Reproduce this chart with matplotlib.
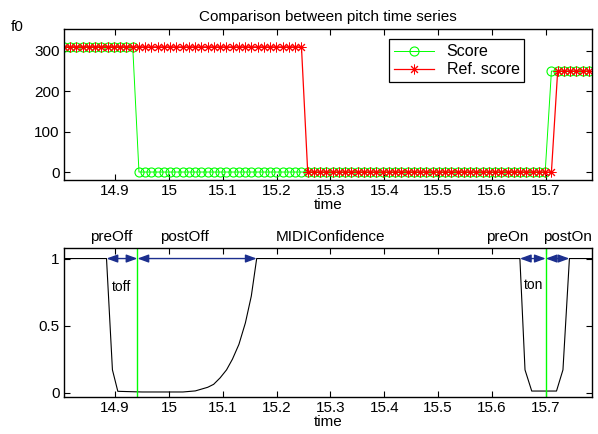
import numpy as np
import matplotlib
matplotlib.use("Agg")
import matplotlib.pyplot as plt

plt.rcParams['font.family'] = ['Liberation Sans', 'DejaVu Sans']
plt.rcParams['font.size'] = 11

t_start = 14.805
hop = 0.01161
n_frames = 85
# run-lengths of the pitch levels (value, frame count)
score_levels = [310, 0, 250]
score_counts = [12, 66, 7]
ref_levels = [310, 0, 250]
ref_counts = [39, 40, 6]

# MIDI confidence curve
conf_t = [14.805, 14.884, 14.895, 14.905, 14.95, 15.026, 15.049, 15.072, 15.083,
          15.095, 15.107, 15.118, 15.130, 15.142, 15.153, 15.163,
          15.652, 15.6615, 15.674, 15.72, 15.732, 15.744, 15.786]
conf_v = [1, 1, 0.17, 0.01, 0.005, 0.005, 0.013, 0.04, 0.062,
          0.11, 0.17, 0.25, 0.36, 0.52, 0.72, 1.0,
          1, 0.17, 0.012, 0.012, 0.17, 1, 1]

t_off = 14.9415
t_on = 15.70
pre_off, post_off = 14.884, 15.163
pre_on, post_on = 15.652, 15.744

xlim = (14.805, 15.786)
xticks = [14.9, 15.0, 15.1, 15.2, 15.3, 15.4, 15.5, 15.6, 15.7]
xticklabels = ['14.9', '15', '15.1', '15.2', '15.3', '15.4', '15.5', '15.6', '15.7']

t = t_start + hop * np.arange(n_frames)
score = np.repeat(score_levels, score_counts)
ref = np.repeat(ref_levels, ref_counts)

fig = plt.figure(figsize=(5.98, 4.34), dpi=100)
ax1 = fig.add_axes([0.107, 0.585, 0.883, 0.348])
ax2 = fig.add_axes([0.107, 0.086, 0.883, 0.343])

star = (8, 2, 0)
ax1.plot(t, score, '-', color='#00ff00', lw=0.7, marker='o', ms=6.5,
         mfc='none', mec='#00ff00', mew=0.8, label='Score')
ax1.plot(t, ref, '-', color='#ff0000', lw=0.9, marker=star, ms=7,
         mec='#ff0000', mew=0.7, label='Ref. score')
ax1.set_xlim(*xlim)
ax1.set_ylim(-20, 354)
ax1.set_yticks([0, 100, 200, 300])
ax1.set_title('Comparison between pitch time series', fontsize=11, pad=6)
ax1.set_xlabel('time', labelpad=0)
fig.text(17 / 598, 1 - 27 / 434, 'f0', ha='center', va='center')
leg = ax1.legend(loc='upper right', bbox_to_anchor=(0.887, 0.985), fancybox=False,
                 edgecolor='black', framealpha=1, borderpad=0.3,
                 handlelength=2.5, fontsize=11.5, labelspacing=0.2)
leg.get_frame().set_linewidth(0.9)

ax2.plot(conf_t, conf_v, color='black', lw=0.8)
ax2.axvline(t_off, color='#00ff00', lw=1)
ax2.axvline(t_on, color='#00ff00', lw=1)
ax2.set_xlim(*xlim)
ax2.set_ylim(-0.03, 1.08)
ax2.set_yticks([0, 0.5, 1])
ax2.set_yticklabels(['0', '0.5', '1'])
ax2.set_xlabel('time', labelpad=0)

arrow_col = '#1c2f8e'
for a, b in [(pre_off, t_off), (t_off, post_off), (pre_on, t_on), (t_on, post_on)]:
    ax2.annotate('', xy=(b, 1), xytext=(a, 1),
                 arrowprops=dict(arrowstyle='<|-|>,head_length=0.6,head_width=0.22',
                                 color=arrow_col, lw=1, shrinkA=0, shrinkB=0))

for x, s in [(14.893, 'preOff'), (15.028, 'postOff'), (15.3, 'MIDIConfidence'),
             (15.628, 'preOn'), (15.741, 'postOn')]:
    ax2.text(x, 1.158, s, ha='center', va='center', clip_on=False)
ax2.text(14.911, 0.786, 'toff', ha='center', va='center', fontsize=10)
ax2.text(15.678, 0.80, 'ton', ha='center', va='center', fontsize=10)

for ax in (ax1, ax2):
    ax.set_xticks(xticks)
    ax.set_xticklabels(xticklabels)
    ax.tick_params(direction='in', top=True, right=True, length=4.5, width=0.8,
                   labelsize=11, pad=3)
    for sp in ax.spines.values():
        sp.set_linewidth(1.0)

fig.savefig('out.png', dpi=100)
